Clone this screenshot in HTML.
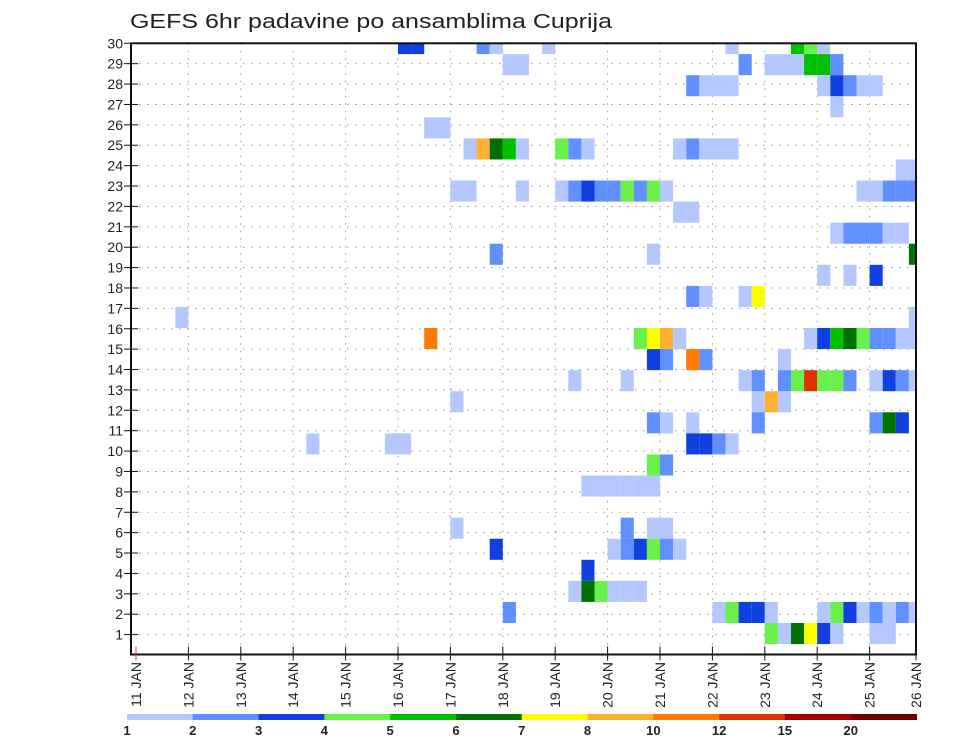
<!DOCTYPE html>
<html><head><meta charset="utf-8"><style>
html,body{margin:0;padding:0;background:#fff;}
svg{display:block;font-family:"Liberation Sans",sans-serif;}
</style></head><body>
<svg id="chart" width="960" height="742" viewBox="0 0 960 742" xmlns="http://www.w3.org/2000/svg">
<text x="130" y="28" font-size="20" fill="#222" textLength="482" lengthAdjust="spacingAndGlyphs">GEFS 6hr padavine po ansamblima Cuprija</text>
<g id="grid"></g>
<g id="cells"></g>
<g id="axes"></g>
<g id="legend"></g>
</svg>
<script>
// ---- data ----
const dayLabels = ["11 JAN","12 JAN","13 JAN","14 JAN","15 JAN","16 JAN","17 JAN","18 JAN","19 JAN","20 JAN","21 JAN","22 JAN","23 JAN","24 JAN","25 JAN","26 JAN"];
const memberTicks = [1,2,3,4,5,6,7,8,9,10,11,12,13,14,15,16,17,18,19,20,21,22,23,24,25,26,27,28,29,30];
const levelLabels = ["1","2","3","4","5","6","7","8","10","12","15","20"];
const levels = [1,2,3,4,5,6,7,8,10,12,15,20];
const levelColors = ["#b4c8ff","#6090ff","#1040e0","#6af04a","#00c000","#007000","#ffff00","#ffb030","#ff7a00","#e03000","#a00000","#700000"];
const members = [29,28,27,26,25,24,23,22,21,20,19,18,17,16,15,14,13,12,11,10,9,8,6,5,4,3,2,1];
const stepsByMember = [
[20,21,26,27,31,45,50,51,52],
[28,29,46,48,49,50,51,52,53],
[42,43,44,45,52,53,54,55,56],
[53],
[22,23],
[25,26,27,28,29,32,33,34,41,42,43,44,45],
[58,59],
[24,25,29,32,33,34,35,36,37,38,39,40,55,56,57,58,59],
[41,42],
[53,54,55,56,57,58],
[27,39,59],
[52,54,56],
[42,43,46,47],
[3,59],
[22,38,39,40,41,51,52,53,54,55,56,57,58,59],
[39,40,42,43,49],
[33,37,46,47,49,50,51,52,53,54,56,57,58,59],
[24,47,48,49],
[39,40,42,47,56,57,58],
[13,19,20,42,43,44,45],
[39,40],
[34,35,36,37,38,39],
[24,37,39,40],
[27,36,37,38,39,40,41],
[34],
[33,34,35,36,37,38],
[28,44,45,46,47,48,52,53,54,55,56,57,58,59],
[48,49,50,51,52,53,56,57]
];
const valuesByMember = [
[3.5,3.5,2.5,1.5,1.5,1.5,5.5,4.5,1.5],
[1.5,1.5,2.5,1.5,1.5,1.5,5.5,5.5,2.5],
[2.5,1.5,1.5,1.5,1.5,3.5,2.5,1.5,1.5],
[1.5],
[1.5,1.5],
[1.5,9,6.5,5.5,1.5,4.5,2.5,1.5,1.5,2.5,1.5,1.5,1.5],
[1.5,1.5],
[1.5,1.5,1.5,1.5,2.5,3.5,2.5,2.5,4.5,2.5,4.5,1.5,1.5,1.5,2.5,2.5,2.5],
[1.5,1.5],
[1.5,2.5,2.5,2.5,1.5,1.5],
[2.5,1.5,6.5],
[1.5,1.5,3.5],
[2.5,1.5,1.5,7.5],
[1.5,1.5],
[11,4.5,7.5,9,1.5,1.5,3.5,5.5,6.5,4.5,2.5,2.5,1.5,1.5],
[3.5,2.5,11,2.5,1.5],
[1.5,1.5,1.5,2.5,2.5,4.5,13.5,4.5,4.5,2.5,1.5,3.5,2.5,1.5],
[1.5,1.5,9,1.5],
[2.5,1.5,1.5,2.5,2.5,6.5,3.5],
[1.5,1.5,1.5,3.5,3.5,2.5,1.5],
[4.5,2.5],
[1.5,1.5,1.5,1.5,1.5,1.5],
[1.5,2.5,1.5,1.5],
[3.5,1.5,2.5,3.5,4.5,2.5,1.5],
[3.5],
[1.5,6.5,4.5,1.5,1.5,1.5],
[2.5,1.5,4.5,3.5,3.5,1.5,1.5,4.5,3.5,1.5,2.5,1.5,2.5,1.5],
[4.5,1.5,6.5,7.5,3.5,1.5,1.5,1.5]
];
</script>
<script>
const NS="http://www.w3.org/2000/svg";
const PL=131, PR=916, PT=43.3, PB=654.5;
const X0=136, DAYW=52.4, STEPW=DAYW/4;
function xDay(d){return X0+d*DAYW;}
function xStep(k){return X0+k*STEPW;}
function yTick(m){return 634.6-(m-1)*20.39;}
const CELLH=21.07;
function yCellTop(m){return 623-(m-1)*CELLH;}
function colorFor(v){let c=levelColors[0];for(let i=0;i<levels.length;i++){if(v>=levels[i])c=levelColors[i];}return c;}
function mk(tag,attrs,parent){const e=document.createElementNS(NS,tag);for(const k in attrs)e.setAttribute(k,attrs[k]);parent.appendChild(e);return e;}

const grid=document.getElementById('grid');
memberTicks.forEach(m=>{
  const l=mk('line',{x1:PL,x2:PR,y1:yTick(m),y2:yTick(m),stroke:'#999','stroke-width':1,'stroke-dasharray':'1.5 6.5'},grid);
  
  
});
dayLabels.forEach((d,i)=>{
  if(i===0||xDay(i)>PR)return;
  const l=mk('line',{x1:xDay(i),x2:xDay(i),y1:PT,y2:PB,stroke:'#999','stroke-width':1,'stroke-dasharray':'1.5 6'},grid);
  
  
});

const cells=document.getElementById('cells');
members.forEach((m,ri)=>{
  const steps=stepsByMember[ri], vals=valuesByMember[ri];
  steps.forEach((k,ci)=>{
    let x=xStep(k), w=STEPW;
    if(x+w>PR)w=PR-x;
    let y=yCellTop(m), h=CELLH;
    if(y<PT){h-=PT-y;y=PT;}
    const r=mk('rect',{x:x.toFixed(2),y:y.toFixed(2),width:w.toFixed(2),height:h.toFixed(2),fill:colorFor(vals[ci])},cells);
    
    
  });
});

const axes=document.getElementById('axes');
const fr=mk('rect',{x:PL,y:PT,width:PR-PL,height:PB-PT,fill:'none',stroke:'#111','stroke-width':2},axes);


memberTicks.forEach(m=>{
  const t=mk('line',{x1:PL-7,x2:PL+7,y1:yTick(m),y2:yTick(m),stroke:'#111','stroke-width':1},axes);
  
  
  const tx=mk('text',{x:PL-8,y:yTick(m)+5,'font-size':14,'text-anchor':'end',fill:'#222'},axes);
  tx.textContent=m;
  
  
});
dayLabels.forEach((d,i)=>{
  const x=Math.min(xDay(i),PR);
  const t=mk('line',{x1:x,x2:x,y1:PB-8,y2:PB+6,stroke:i===0?'#c44':'#111','stroke-width':1},axes);
  
  
  const tx=mk('text',{x:0,y:0,'font-size':14,'text-anchor':'end',fill:'#222',transform:'translate('+(x+5)+',662) rotate(-90)'},axes);
  tx.textContent=d;
  
  
});

const legend=document.getElementById('legend');
const LX0=127, LX1=916.5, SW=(LX1-LX0)/levelColors.length;
levelColors.forEach((c,i)=>{
  const r=mk('rect',{x:LX0+i*SW,y:714,width:SW+0.5,height:6,fill:c},legend);
  
  
});
levelLabels.forEach((s,i)=>{
  const t=mk('text',{x:LX0+i*SW,y:735,'font-size':13,'font-weight':'bold','text-anchor':'middle',fill:'#222'},legend);
  t.textContent=s;
  
  
});
</script>
</body></html>
